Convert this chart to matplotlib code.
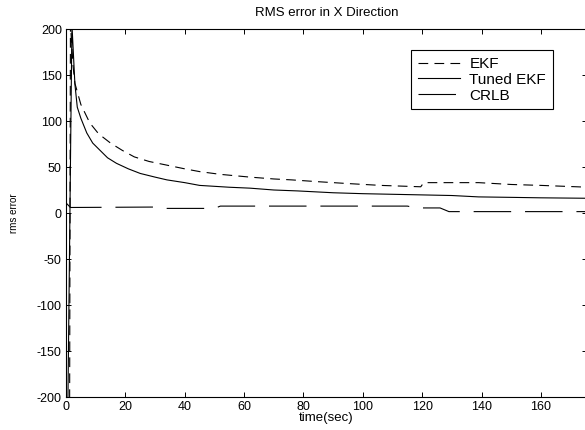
import matplotlib
matplotlib.use("Agg")
import matplotlib.pyplot as plt

plt.rcParams["font.family"] = ["Liberation Sans", "DejaVu Sans"]
plt.rcParams["lines.scale_dashes"] = False
plt.rcParams["axes.unicode_minus"] = False

# EKF (short dashes)
ekf_t = [0, 1.5, 2.4, 3, 5, 8, 11, 15, 19, 23, 28, 34, 40, 45, 52, 62, 70, 76, 85, 95,
         106, 115, 119.5, 120.5, 125, 139, 150, 160, 176]
ekf_v = [-2000, 205, 159, 141, 118, 98, 86, 76, 68, 61, 56, 52, 48, 45, 42, 39, 37, 36, 34, 32,
         30, 29, 28.5, 33, 33, 33, 31, 30, 28]

# Tuned EKF (solid)
tuned_t = [0, 2, 3, 3.8, 5, 7, 9, 11.5, 14, 17, 21, 25, 30, 34, 40, 45, 55, 62, 70, 78,
           90, 100, 115, 130, 139, 150, 160, 176]
tuned_v = [-400, 205, 140, 115, 103, 87, 76, 68, 60, 54, 48, 43, 39, 36, 33, 30, 28, 27, 25, 24,
           22, 21, 20, 19, 17.5, 17, 16.5, 16]

# CRLB (long dashes)
crlb_t = [0, 1.5, 32, 34, 50, 52, 115, 118, 126, 129, 176]
crlb_v = [11, 6, 6.5, 5, 5, 7.5, 7.5, 5.5, 5.5, 1.5, 1.5]

xticks = list(range(0, 161, 20))
yticks = list(range(-200, 201, 50))

fig = plt.figure(figsize=(5.85, 4.30), dpi=100)
ax = fig.add_axes([66 / 585, 33 / 430, 521 / 585, 368 / 430])

ax.plot(ekf_t, ekf_v, color="black", lw=0.8, dashes=(7, 4.5), label="EKF")
ax.plot(tuned_t, tuned_v, color="black", lw=0.8, label="Tuned EKF")
ax.plot(crlb_t, crlb_v, color="black", lw=0.8, dashes=(27, 10), label="CRLB")

ax.set_xlim(0, 175.5)
ax.set_ylim(-200, 200)
ax.set_xticks(xticks)
ax.set_yticks(yticks)
ax.tick_params(direction="in", length=3.5, width=0.7, labelsize=9, top=True, right=True,
               pad=3)
for s in ax.spines.values():
    s.set_linewidth(0.8)

ax.set_title("RMS error in X Direction", fontsize=9.5, pad=9)
ax.set_xlabel("time(sec)", fontsize=9.5, labelpad=-1)
ax.set_ylabel("rms error", fontsize=7, labelpad=13)

leg = ax.legend(loc="upper right", bbox_to_anchor=(0.9347, 0.943), fontsize=11,
                handlelength=2.8, handletextpad=0.6, borderpad=0.45, labelspacing=0.12,
                fancybox=False, framealpha=1, edgecolor="black", borderaxespad=0)
leg.get_frame().set_linewidth(0.8)

fig.savefig("out.png", dpi=100)
